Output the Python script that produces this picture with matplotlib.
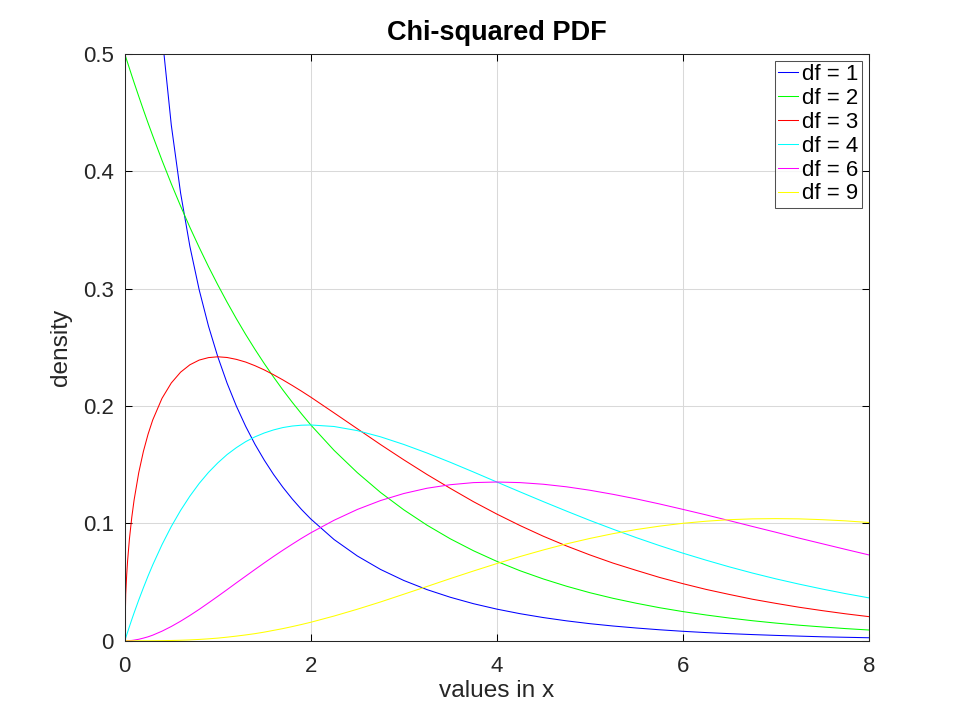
import numpy as np
import matplotlib
matplotlib.use("Agg")
import matplotlib.pyplot as plt

plt.rcParams['font.family'] = ['Liberation Sans', 'DejaVu Sans']

# sample positions along x and the density values
x_vals = [0, 0.01, 0.02, 0.03, 0.05, 0.075, 0.1, 0.15, 0.2, 0.25, 0.3, 0.4, 0.5, 0.6,
          0.7, 0.8, 0.9, 1.0, 1.1, 1.2, 1.3, 1.4, 1.5, 1.6, 1.7, 1.8, 1.9, 2.0,
          2.25, 2.5, 2.75, 3.0, 3.25, 3.5, 3.75, 4.0, 4.25, 4.5, 4.75, 5.0,
          5.25, 5.5, 5.75, 6.0, 6.25, 6.5, 6.75, 7.0, 7.25, 7.5, 7.75, 8.0]

df1 = [np.nan, 3.9695, 2.7929, 2.2690, 1.7401, 1.4031, 1.2000, 0.9556, 0.8072, 0.7041, 0.6269,
       0.5164, 0.4394, 0.3815,
       0.3360, 0.2990, 0.2681, 0.2420, 0.2195, 0.1999, 0.1827, 0.1674, 0.1539, 0.1417, 0.1308,
       0.1209, 0.1119, 0.1038,
       0.0863, 0.0723, 0.0608, 0.0514, 0.0436, 0.0371, 0.0316, 0.0270, 0.0231, 0.0198, 0.0170,
       0.0146, 0.0126, 0.0109, 0.0094, 0.0081, 0.0070, 0.0061, 0.0053, 0.0046, 0.0040, 0.0034,
       0.0030, 0.0026]
df2 = [0.5, 0.4975, 0.4950, 0.4926, 0.4877, 0.4816, 0.4756, 0.4639, 0.4524, 0.4412, 0.4304,
       0.4094, 0.3894, 0.3704,
       0.3523, 0.3352, 0.3188, 0.3033, 0.2885, 0.2744, 0.2610, 0.2483, 0.2362, 0.2247, 0.2137,
       0.2033, 0.1934, 0.1839,
       0.1623, 0.1433, 0.1264, 0.1116, 0.0985, 0.0869, 0.0767, 0.0677, 0.0597, 0.0527, 0.0465,
       0.0410, 0.0362, 0.0320, 0.0282, 0.0249, 0.0220, 0.0194, 0.0171, 0.0151, 0.0133, 0.0118,
       0.0104, 0.0092]
df3 = [0.0, 0.0397, 0.0559, 0.0681, 0.0870, 0.1052, 0.1200, 0.1433, 0.1614, 0.1760, 0.1881,
       0.2066, 0.2197, 0.2289,
       0.2352, 0.2392, 0.2413, 0.2420, 0.2414, 0.2398, 0.2375, 0.2344, 0.2308, 0.2267, 0.2223,
       0.2176, 0.2127, 0.2076,
       0.1942, 0.1807, 0.1672, 0.1542, 0.1417, 0.1299, 0.1185, 0.1080, 0.0982, 0.0891, 0.0808,
       0.0732, 0.0662, 0.0600, 0.0540, 0.0487, 0.0438, 0.0395, 0.0354, 0.0319, 0.0286, 0.0257,
       0.0230, 0.0206]
df4 = [0.0, 0.0025, 0.0050, 0.0074, 0.0122, 0.0181, 0.0238, 0.0348, 0.0452, 0.0552, 0.0646,
       0.0819, 0.0974, 0.1111,
       0.1233, 0.1341, 0.1435, 0.1516, 0.1587, 0.1646, 0.1697, 0.1738, 0.1771, 0.1797, 0.1817,
       0.1830, 0.1837, 0.1839,
       0.1826, 0.1791, 0.1738, 0.1673, 0.1600, 0.1521, 0.1438, 0.1353, 0.1269, 0.1186, 0.1105,
       0.1026, 0.0951, 0.0879, 0.0811, 0.0747, 0.0687, 0.0630, 0.0577, 0.0528, 0.0483, 0.0441,
       0.0402, 0.0366]
df6 = [0.0, 0.0, 0.0, 0.0001, 0.0002, 0.0003, 0.0006, 0.0013, 0.0023, 0.0034, 0.0048,
       0.0082, 0.0122, 0.0167,
       0.0216, 0.0268, 0.0323, 0.0379, 0.0436, 0.0494, 0.0551, 0.0608, 0.0664, 0.0719, 0.0772,
       0.0823, 0.0873, 0.0920,
       0.1027, 0.1119, 0.1195, 0.1255, 0.1300, 0.1330, 0.1348, 0.1353, 0.1348, 0.1334, 0.1312,
       0.1283, 0.1248, 0.1209, 0.1166, 0.1120, 0.1073, 0.1024, 0.0974, 0.0925, 0.0875, 0.0827,
       0.0779, 0.0732]
df9 = [0.0, 0.0, 0.0, 0.0, 0.0, 0.0, 0.0, 0.0, 0.0, 0.0, 0.00005,
       0.00013, 0.00026, 0.00047,
       0.00077, 0.00117, 0.00168, 0.0023, 0.0031, 0.0040, 0.0050, 0.0061, 0.0074, 0.0089, 0.0104,
       0.0121, 0.0139, 0.0158,
       0.0211, 0.0269, 0.0331, 0.0397, 0.0463, 0.0530, 0.0595, 0.0658, 0.0718, 0.0774, 0.0826,
       0.0872, 0.0913, 0.0948, 0.0977, 0.1001, 0.1019, 0.1032, 0.1039, 0.1041, 0.1039, 0.1032,
       0.1022, 0.1008]

series = [df1, df2, df3, df4, df6, df9]
labels = ["df = 1", "df = 2", "df = 3", "df = 4", "df = 6", "df = 9"]
colors = ["#0000ff", "#00ff00", "#ff0000", "#00ffff", "#ff00ff", "#ffff00"]

x_ticks = [0, 2, 4, 6, 8]
y_ticks = [0, 0.1, 0.2, 0.3, 0.4, 0.5]
y_tick_labels = ["0", "0.1", "0.2", "0.3", "0.4", "0.5"]


def main():
    fig = plt.figure(figsize=(9.6, 7.2), dpi=100)
    ax = fig.add_axes([0.13, 0.11, 0.775, 0.815])

    for vals, lab, col in zip(series, labels, colors):
        ax.plot(x_vals, vals, color=col, linewidth=0.75, label=lab)

    ax.set_xlim(0, 8)
    ax.set_ylim(0, 0.5)
    ax.set_xticks(x_ticks)
    ax.set_xticklabels([str(t) for t in x_ticks])
    ax.set_yticks(y_ticks)
    ax.set_yticklabels(y_tick_labels)
    ax.grid(True, color="#d9d9d9", linewidth=0.75)
    ax.set_axisbelow(True)
    ax.tick_params(direction="in", top=True, right=True, length=5, width=0.75,
                   labelsize=16, labelcolor="#262626")
    ax.tick_params(axis="x", pad=11)
    ax.tick_params(axis="y", pad=8)
    for sp in ax.spines.values():
        sp.set_linewidth(0.75)
        sp.set_color("#262626")

    ax.set_xlabel("values in x", fontsize=17.6, color="#262626", labelpad=2)
    ax.set_ylabel("density", fontsize=17.6, color="#262626", labelpad=8)
    ax.set_title("Chi-squared PDF", fontsize=19.5, fontweight="bold", pad=10)

    leg = ax.legend(loc="upper right", fontsize=16, frameon=True, fancybox=False,
                    handlelength=0.9, handletextpad=0.2, labelspacing=0.13,
                    borderpad=0.15, borderaxespad=0.3)
    leg.get_frame().set_edgecolor("#262626")
    leg.get_frame().set_linewidth(0.75)

    fig.savefig("out.png", dpi=100)


if __name__ == '__main__':
    main()
